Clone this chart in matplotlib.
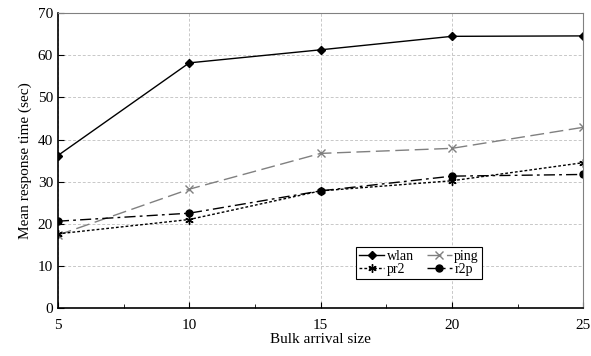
import matplotlib.pyplot as plt

plt.rcParams['font.family'] = ['Liberation Serif', 'DejaVu Serif']

# datos
bulk = [5, 10, 15, 20, 25]
wlan = [36.2, 58.2, 61.3, 64.5, 64.6]
ping = [17.3, 28.2, 36.7, 37.9, 42.9]
pr2 = [17.6, 21.0, 27.8, 30.2, 34.5]
r2p = [20.6, 22.5, 27.8, 31.3, 31.7]

fig, ax = plt.subplots(figsize=(5.91, 3.56), dpi=100)
fig.subplots_adjust(left=0.098, right=0.987, top=0.963, bottom=0.135)

l1, = ax.plot(bulk, wlan, color="black", linestyle="-", marker="D", markersize=4, linewidth=1, label="wlan")
l2, = ax.plot(bulk, ping, color="gray", linestyle=(0, (10, 4)), marker="x", markersize=5.5, linewidth=1, label="ping")
l3, = ax.plot(bulk, pr2, color="black", linestyle=(0, (2, 1.5)), marker=(6, 2, 0), markersize=6, linewidth=1, label="pr2")
l4, = ax.plot(bulk, r2p, color="black", linestyle=(0, (8, 3, 2, 3)), marker="o", markersize=5, linewidth=1, label="r2p")

ax.set_xlim(5, 25)
ax.set_ylim(0, 70)
ax.set_xticks(bulk)
ax.set_xticks([7.5, 12.5, 17.5, 22.5], minor=True)
ax.set_yticks(range(0, 71, 10))
ax.tick_params(direction="in", labelsize=11, length=4)
ax.tick_params(which="minor", direction="in", length=3)
ax.tick_params(axis="x", pad=8)
ax.grid(True, which="major", color="#c8c8c8", linestyle=(0, (3, 2)), linewidth=0.7)

ax.spines["top"].set_color("gray")
ax.spines["right"].set_color("gray")
ax.spines["left"].set_linewidth(1.2)
ax.spines["bottom"].set_linewidth(1.2)

ax.set_xlabel("Bulk arrival size", fontsize=11, labelpad=1)
ax.set_ylabel("Mean response time (sec)", fontsize=11, labelpad=4)

# orden por columnas para que quede wlan/ping arriba y pr2/r2p abajo
leg = ax.legend([l1, l3, l2, l4], ["wlan", "pr2", "ping", "r2p"],
                ncol=2, loc="lower left", bbox_to_anchor=(0.568, 0.098), fontsize=10,
                frameon=True, fancybox=False, framealpha=1, edgecolor="black",
                handlelength=1.8, columnspacing=0.9, borderpad=0.2, labelspacing=0.05,
                handletextpad=0.2, borderaxespad=0)
leg.get_frame().set_linewidth(0.8)

plt.savefig("out.png", dpi=100)
